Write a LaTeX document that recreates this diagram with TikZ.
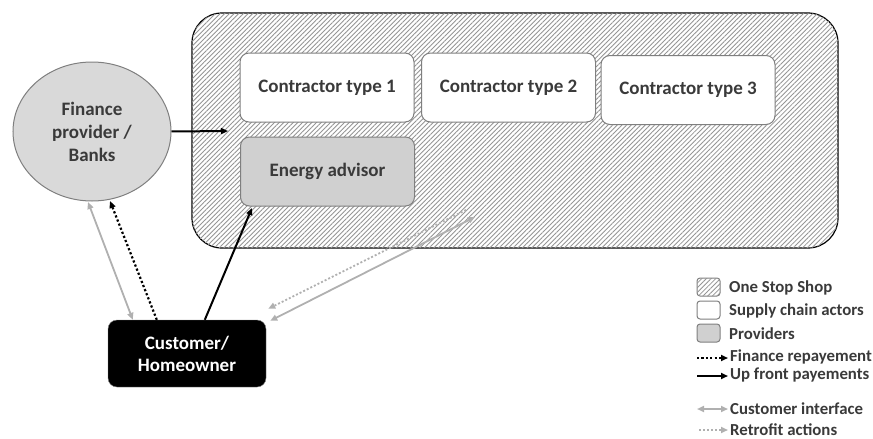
\documentclass[tikz,border=0pt]{standalone}
\usepackage{fontspec}
\setmainfont{Carlito}
\usetikzlibrary{patterns.meta,arrows.meta,calc,shapes.geometric}
\definecolor{txt}{HTML}{3A3A3A}
\definecolor{edge}{HTML}{7F7F7F}
\definecolor{prov}{HTML}{D0D0D0}
\definecolor{bank}{HTML}{D9D9D9}
\definecolor{lgray}{HTML}{B0B0B0}
\definecolor{hatch}{HTML}{959595}
\tikzset{
  hatched/.style={fill=white, postaction={pattern={Lines[angle=45,distance=3.3pt,line width=0.85pt]}, pattern color=hatch}},
  shop/.style={draw=black, line width=1.2pt, rounded corners=30pt, hatched},
  actor/.style={draw=edge, line width=1pt, fill=white, rounded corners=9pt,
    minimum width=174pt, minimum height=69pt, text=txt, font=\bfseries\fontsize{19}{22}\selectfont},
  provider/.style={actor, fill=prov},
  bankstyle/.style={ellipse, draw=edge, line width=1pt, fill=bank, minimum width=158pt, minimum height=139pt,
    align=center, text=txt, font=\bfseries\fontsize{19}{23}\selectfont},
  custstyle/.style={draw=edge, fill=black, rounded corners=9pt, minimum width=158pt, minimum height=67pt,
    align=center, text=white, font=\bfseries\fontsize{19}{22}\selectfont},
  tip/.style={-{Triangle[length=7pt,width=6pt]}},
  twotip/.style={{Triangle[length=7pt,width=6pt]}-{Triangle[length=7pt,width=6pt]}},
  payline/.style={tip, line width=2pt, black},
  repayline/.style={tip, line width=2.2pt, black, dash pattern=on 2.2pt off 2.2pt},
  ifaceline/.style={twotip, line width=1.8pt, lgray},
  retroline/.style={tip, line width=1.8pt, lgray, dash pattern=on 2pt off 2pt},
  swatch/.style={draw=edge, line width=1pt, rounded corners=3pt, minimum width=23pt, minimum height=18pt, inner sep=0pt},
  legtext/.style={anchor=west, text=txt, font=\bfseries\fontsize{16.8}{19}\selectfont, inner sep=0pt}
}
\begin{document}
\begin{tikzpicture}[x=1pt,y=-1pt]
\useasboundingbox (0,0) rectangle (873,439);

% one stop shop container
\node[shop, minimum width=646pt, minimum height=235pt] (shop) at (515,130.5) {};

% supply chain actors and providers
\node[actor] (c1) at (327,87.5) {Contractor type 1};
\node[actor] (c2) at (508.5,87.5) {Contractor type 2};
\node[actor] (c3) at (688,90) {Contractor type 3};
\node[provider] (ea) at (327.5,171.5) {Energy advisor};

\node[bankstyle] (bank) at (92,131.5) {Finance\\provider /\\Banks};
\node[custstyle] (cust) at (187,353.5) {Customer/\\Homeowner};

% connector end points
\coordinate (shopin) at (228,131);
\coordinate (custA) at ($(cust.north west)+(25,0)$);
\coordinate (custB) at ($(cust.north west)+(49,0)$);
\coordinate (custC) at ($(cust.north west)+(97,0)$);
\coordinate (custD) at ($(cust.north east)+(2,-11)$);
\coordinate (custE) at ($(cust.north east)+(4,1)$);
\coordinate (bankA) at (88,202);
\coordinate (bankB) at (110,201);
\coordinate (eaIn) at (252,208);
\coordinate (retroS) at (466,210);
\coordinate (ifaceE) at (475,217);

% flows
\draw[payline] (bank.east) -- (shopin);
\draw[payline] (custC) -- (eaIn);
\draw[repayline] (custB) -- (bankB);
\draw[ifaceline] (custA) -- (bankA);
\draw[retroline] (retroS) -- (custD);
\draw[ifaceline] (custE) -- (ifaceE);

% legend
\node[swatch, hatched] (k1) at (708.5,287) {};
\node[swatch, fill=white] (k2) at (708.5,310) {};
\node[swatch, fill=prov] (k3) at (708.5,333) {};
\node[legtext] (t1) at (729,288) {One Stop Shop};
\node[legtext] (t2) at (729,311) {Supply chain actors};
\node[legtext] (t3) at (729,334) {Providers};

\coordinate (l4a) at (697,358); \coordinate (l4b) at (728,358);
\coordinate (l5a) at (697,376); \coordinate (l5b) at (728,376);
\coordinate (l6a) at (697,409); \coordinate (l6b) at (728,409);
\coordinate (l7a) at (699,430); \coordinate (l7b) at (728,430);
\draw[repayline] (l4a) -- (l4b);
\draw[payline] (l5a) -- (l5b);
\draw[ifaceline] (l6a) -- (l6b);
\draw[retroline] (l7a) -- (l7b);
\node[legtext] (t4) at (730,357) {Finance repayement};
\node[legtext] (t5) at (730,375) {Up front payements};
\node[legtext] (t6) at (730,409) {Customer interface};
\node[legtext] (t7) at (730,429.5) {Retrofit actions};
\end{tikzpicture}
\end{document}
